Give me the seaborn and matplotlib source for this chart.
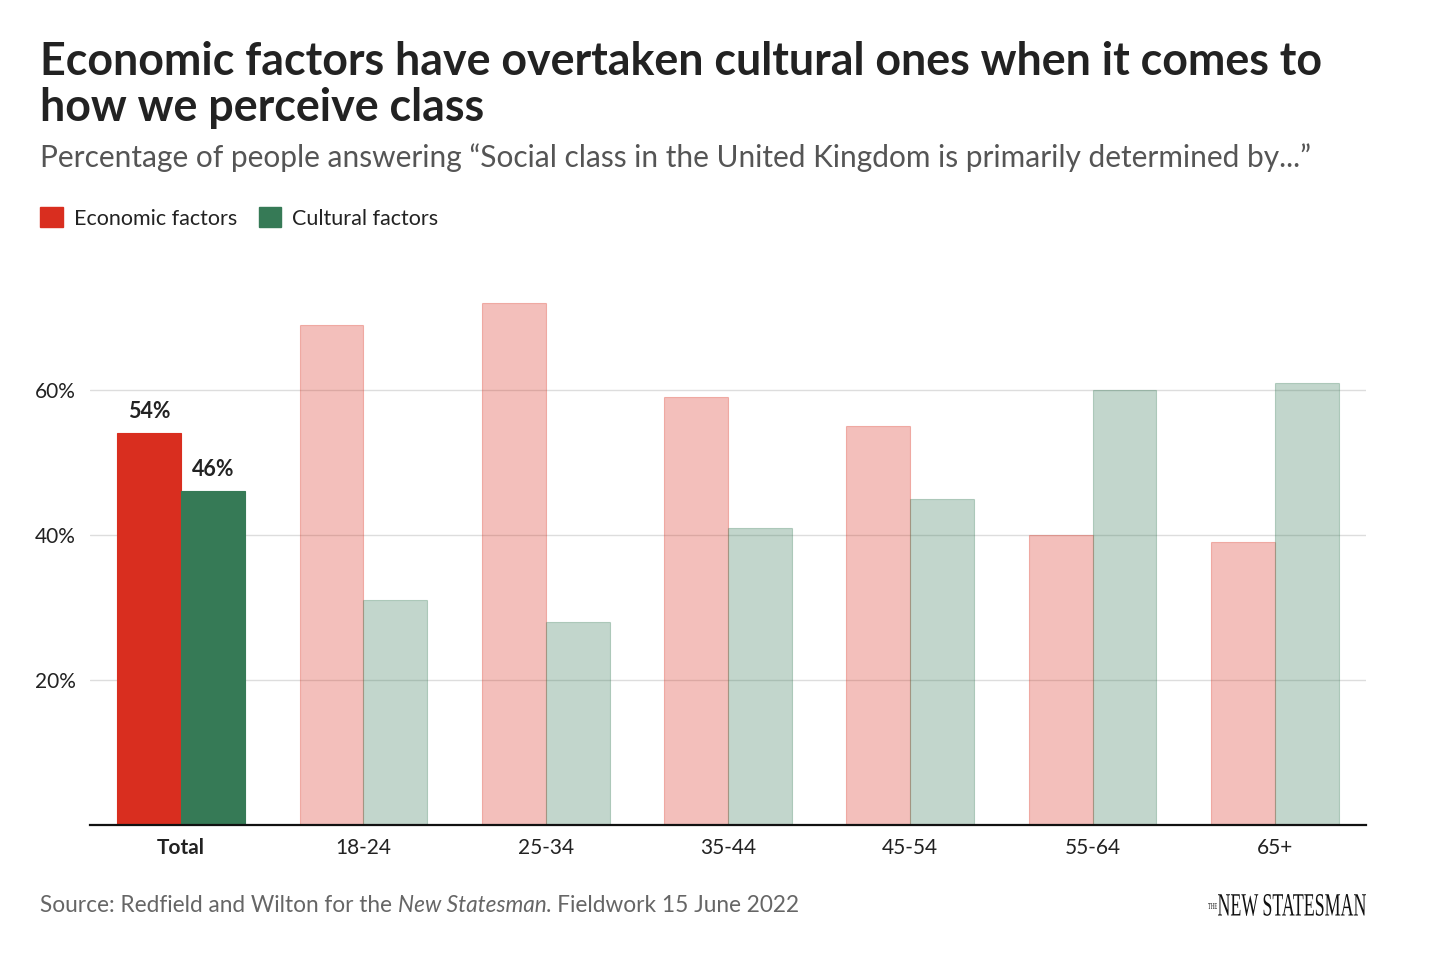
import pandas as pd
import seaborn as sns
import matplotlib.pyplot as plt
from matplotlib.patches import Patch, PathPatch
from matplotlib.textpath import TextPath
from matplotlib.font_manager import FontProperties
from matplotlib.transforms import Affine2D

# data
groups = ['Total', '18-24', '25-34', '35-44', '45-54', '55-64', '65+']
economic = [54, 69, 72, 59, 55, 40, 39]
cultural = [46, 31, 28, 41, 45, 60, 61]
factors = ['Economic factors', 'Cultural factors']
colors = ['#D92E1F', '#367A56']
y_ticks = [20, 40, 60]

df = pd.DataFrame({
    'group': groups * 2,
    'value': economic + cultural,
    'factor': [factors[0]] * len(groups) + [factors[1]] * len(groups),
})

sns.set_theme(style="white")
plt.rcParams['font.family'] = ['Lato', 'DejaVu Sans']

W, H = 1456, 964
fig = plt.figure(figsize=(W / 100, H / 100), dpi=100)
ax = fig.add_axes([90 / W, 1 - 825 / H, 1276 / W, 75 * 7.25 / H])

sns.barplot(data=df, x='group', y='value', hue='factor', order=groups,
            hue_order=factors, palette=colors, width=0.7, saturation=1,
            legend=False, ax=ax)

# only the Total bars are solid, age groups are faded
for cont, col in zip(ax.containers, colors):
    for i, bar in enumerate(cont):
        bar.set_edgecolor(col)
        bar.set_linewidth(0.8)
        if i != 0:
            bar.set_alpha(0.3)
    ax.text(cont[0].get_x() + cont[0].get_width() / 2, cont[0].get_height() + 1.6,
            f"{int(cont[0].get_height())}%", ha='center', va='bottom',
            fontsize=15.5, fontweight='bold', color='#222222')

ax.set_xlim(-0.5, len(groups) - 0.5)
ax.set_ylim(0, 75)
ax.set_yticks(y_ticks)
ax.set_yticklabels([f"{t}%" for t in y_ticks])
ax.yaxis.grid(True, color='#dddddd', linewidth=1)
ax.set_axisbelow(True)
ax.set_xlabel('')
ax.set_ylabel('')
ax.tick_params(axis='both', length=0, labelsize=15, colors='#222222')
ax.tick_params(axis='x', pad=9)
ax.tick_params(axis='y', pad=10)
for lab in ax.get_xticklabels():
    if lab.get_text() == 'Total':
        lab.set_fontweight('bold')
for s in ['top', 'right', 'left']:
    ax.spines[s].set_visible(False)
ax.spines['bottom'].set_color('#111111')
ax.spines['bottom'].set_linewidth(1.6)

# titles
fig.text(40 / W, 1 - 85 / H,
         "Economic factors have overtaken cultural ones when it comes to\nhow we perceive class",
         fontsize=32.2, fontweight='bold', color='#222222', va='center', ha='left',
         linespacing=1.12)
fig.text(40 / W, 1 - 158 / H,
         "Percentage of people answering \u201cSocial class in the United Kingdom is primarily determined by...\u201d",
         fontsize=21.5, color='#555555', va='center', ha='left')

handles = [Patch(facecolor=c, edgecolor=c) for c in colors]
fig.legend(handles, factors, loc='center left', bbox_to_anchor=(21 / W, 1 - 218 / H),
           ncol=2, frameon=False, fontsize=15.5, handlelength=1.05, handleheight=1.05,
           handletextpad=0.5, columnspacing=1.0, labelcolor='#222222')

# footer
src = fig.text(40 / W, 1 - 906 / H, "Source: Redfield and Wilton for the ",
               fontsize=16.3, color='#666666', va='center', ha='left')
fig.canvas.draw()
bb = src.get_window_extent()
it = fig.text(bb.x1 / W, 1 - 906 / H, "New Statesman",
              fontsize=16.3, color='#666666', va='center', ha='left', style='italic')
fig.canvas.draw()
bb = it.get_window_extent()
fig.text(bb.x1 / W, 1 - 906 / H, ". Fieldwork 15 June 2022",
         fontsize=16.3, color='#666666', va='center', ha='left')

# condensed serif logo drawn as a squeezed text path (display pixels)
serif = FontProperties(family='Liberation Serif')
logo = TextPath((0, 0), "NEW STATESMAN", size=30, prop=serif)
ext = logo.get_extents()
sx = 148 / ext.width
sy = 22 / ext.height
fig.patches.append(PathPatch(
    logo, facecolor='#111111', edgecolor='none',
    transform=Affine2D().translate(-ext.x0, -ext.y0).scale(sx, sy).translate(1218, H - 916),
    figure=fig))
the = TextPath((0, 0), "THE", size=10, prop=serif)
ext2 = the.get_extents()
fig.patches.append(PathPatch(
    the, facecolor='#111111', edgecolor='none',
    transform=Affine2D().translate(-ext2.x0, -ext2.y0).scale(9 / ext2.width, 6 / ext2.height).translate(1208, H - 909),
    figure=fig))

fig.savefig('out.png', dpi=100)
